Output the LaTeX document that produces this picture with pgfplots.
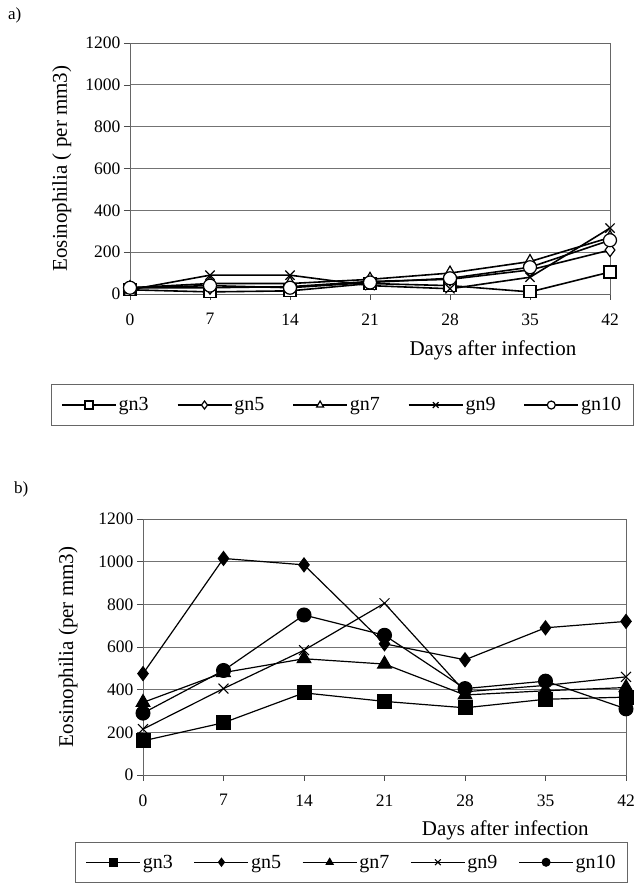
\documentclass[border=0pt]{standalone}
\usepackage{fontspec}
\setmainfont{Liberation Serif}
\usepackage{pgfplots}
\pgfplotsset{compat=1.18}
\pgfplotsset{
  common/.style={
    scale only axis,
    xmin=0,xmax=42,ymin=0,ymax=1200,
    xtick={0,7,14,21,28,35,42},
    ytick={0,200,400,600,800,1000,1200},
    /pgf/number format/assume math mode=true,
    /pgf/number format/1000 sep={},
    ticklabel style={font=\fontsize{17.5}{19}\selectfont},
    tick align=outside, tick pos=left,
    major tick length=6pt,
    tick style={black!70,line width=0.6pt},
    ymajorgrids, grid style={black!55,line width=0.8pt},
    axis line style={black!60,line width=0.8pt},
    xticklabel style={yshift=-10pt},
    yticklabel style={xshift=0pt},
    legend columns=5,
    legend cell align=left,
    legend style={draw=black!60,line width=0.6pt,font=\fontsize{20}{22}\selectfont,
      inner xsep=10pt,inner ysep=11pt},
    legend image code/.code={\draw[mark repeat=2,mark phase=2,##1] plot coordinates {(0pt,0pt) (27pt,0pt) (54pt,0pt)};},
    legend image post style={mark size=4pt},
  }
}
\begin{document}
\begin{tikzpicture}[x=1pt,y=1pt]
\node[anchor=north west,inner sep=0,font=\fontsize{17}{19}\selectfont] at (8,882) {a)};
\node[anchor=north west,inner sep=0,font=\fontsize{17}{19}\selectfont] at (14,408) {b)};
% ---------- panel a
\begin{axis}[common,
  at={(130pt,596pt)}, anchor=south west, width=480pt, height=251pt,
  every axis y label/.style={at={(axis description cs:-0.142,0.5)},rotate=90,anchor=center,font=\fontsize{21}{24}\selectfont},
  every axis x label/.style={at={(axis description cs:0.756,-0.225)},anchor=center,font=\fontsize{21}{24}\selectfont},
  ylabel={Eosinophilia ( per mm3)}, xlabel={Days after infection},
  legend style={at={(axis description cs:-0.165,-0.36)},anchor=north west,
    /tikz/every even column/.append style={column sep=26pt}},
  every axis plot/.append style={black,line width=1.6pt,mark options={solid,fill=white,line width=1.2pt}},
]
\addplot[mark=square*,mark size=6pt] coordinates {(0,20)(7,10)(14,15)(21,50)(28,40)(35,10)(42,105)};
\addplot[mark=diamond*,mark size=6.5pt] coordinates {(0,30)(7,30)(14,35)(21,60)(28,70)(35,115)(42,210)};
\addplot[mark=triangle*,mark size=7pt] coordinates {(0,30)(7,50)(14,50)(21,70)(28,100)(35,155)(42,270)};
\addplot[mark=x,mark size=6.5pt] coordinates {(0,20)(7,90)(14,90)(21,40)(28,25)(35,80)(42,315)};
\addplot[mark=*,mark size=6.5pt] coordinates {(0,30)(7,40)(14,30)(21,55)(28,75)(35,128)(42,257)};
\legend{gn3,gn5,gn7,gn9,gn10}
\end{axis}
% ---------- panel b
\begin{axis}[common,
  at={(143pt,115pt)}, anchor=south west, width=483pt, height=256pt,
  every axis y label/.style={at={(axis description cs:-0.155,0.5)},rotate=90,anchor=center,font=\fontsize{21}{24}\selectfont},
  every axis x label/.style={at={(axis description cs:0.75,-0.215)},anchor=center,font=\fontsize{21}{24}\selectfont},
  ylabel={Eosinophilia (per mm3)}, xlabel={Days after infection},
  legend style={at={(axis description cs:-0.140,-0.26)},anchor=north west,
    /tikz/every even column/.append style={column sep=19pt}},
  every axis plot/.append style={black,line width=1.2pt,mark options={solid,fill=black,line width=1pt}},
]
\addplot[mark=square*,mark size=7pt] coordinates {(0,160)(7,245)(14,385)(21,345)(28,315)(35,355)(42,365)};
\addplot[mark=diamond*,mark size=7pt] coordinates {(0,475)(7,1015)(14,985)(21,615)(28,540)(35,690)(42,720)};
\addplot[mark=triangle*,mark size=8pt] coordinates {(0,340)(7,480)(14,545)(21,520)(28,375)(35,395)(42,410)};
\addplot[mark=x,mark size=7pt] coordinates {(0,215)(7,405)(14,585)(21,805)(28,390)(35,420)(42,460)};
\addplot[mark=*,mark size=7pt] coordinates {(0,290)(7,490)(14,750)(21,655)(28,405)(35,440)(42,310)};
\legend{gn3,gn5,gn7,gn9,gn10}
\end{axis}
\pgfresetboundingbox
\path[use as bounding box] (0,0) rectangle (634,890);
\end{tikzpicture}
\end{document}
